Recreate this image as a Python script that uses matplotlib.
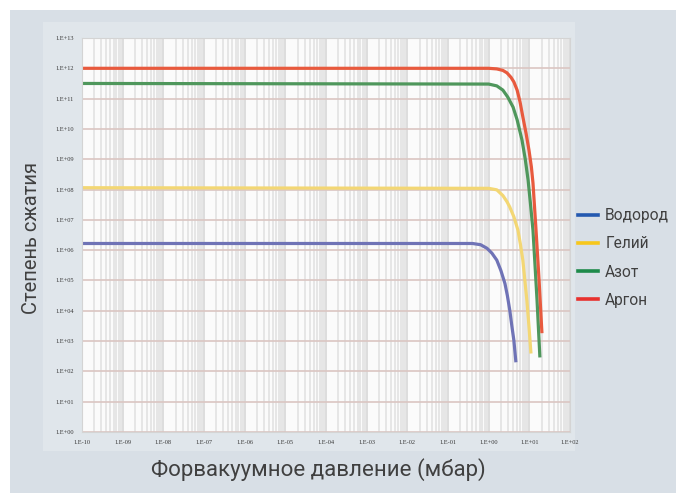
import numpy as np
import matplotlib
matplotlib.use("Agg")
import matplotlib.pyplot as plt
from matplotlib.patches import Rectangle
from matplotlib.lines import Line2D
from matplotlib.ticker import FixedLocator, LogLocator, NullFormatter

plt.rcParams['font.family'] = ['Roboto', 'DejaVu Sans']

# Compression ratio vs. fore-vacuum pressure, stored as log10 values
# (x: pressure in mbar, y: compression ratio)
h2_logp = [-10.0, -0.40, -0.20, -0.04, 0.08, 0.20, 0.30, 0.40, 0.46, 0.52, 0.57, 0.62, 0.67]
h2_logk = [6.22, 6.22, 6.18, 6.06, 5.90, 5.67, 5.33, 4.90, 4.50, 4.01, 3.50, 3.02, 2.30]

he_logp = [-10.0, 0.00, 0.20, 0.35, 0.45, 0.52, 0.62, 0.72, 0.78, 0.84, 0.89, 0.94, 0.99, 1.04]
he_logk = [8.06, 8.04, 7.99, 7.80, 7.60, 7.42, 7.10, 6.66, 6.20, 5.67, 5.00, 4.34, 3.50, 2.59]

n2_logp = [-10.0, 0.00, 0.20, 0.35, 0.47, 0.60, 0.70, 0.82, 0.90, 0.97, 1.03, 1.09, 1.14, 1.19, 1.26]
n2_logk = [11.50, 11.48, 11.42, 11.28, 11.05, 10.72, 10.30, 9.63, 9.00, 8.31, 7.50, 6.65, 5.50, 4.34, 2.46]

ar_logp = [-10.0, 0.00, 0.20, 0.35, 0.45, 0.55, 0.62, 0.70, 0.77, 0.84, 0.92, 0.99, 1.05, 1.09, 1.16, 1.24, 1.31]
ar_logk = [12.00, 12.00, 11.98, 11.93, 11.85, 11.70, 11.55, 11.28, 10.90, 10.40, 9.85, 9.31, 8.75, 8.21, 6.76, 5.00, 3.26]

gases = ["Водород", "Гелий", "Азот", "Аргон"]
curve_colors = ["#6f73b6", "#f3d774", "#4f975c", "#e85a3e"]
legend_colors = ["#2459b0", "#f7c71c", "#1d8a4a", "#e8312e"]

x_exponents = list(range(-10, 3))
y_exponents = list(range(0, 14))
x_ticklabels = [f"1.E{e:+03d}" for e in x_exponents]
y_ticklabels = [f"1.E{e:+03d}" for e in y_exponents]

W, H = 676, 493
fig = plt.figure(figsize=(W / 100, H / 100), dpi=100)
fig.patch.set_facecolor("white")

# grey panel behind everything
fig.add_artist(Rectangle((10 / W, 0), 1 - 10 / W, 1 - 10 / H,
                         transform=fig.transFigure, facecolor="#d8dfe6",
                         edgecolor="none", zorder=-10))
# slightly lighter chart frame
fig.add_artist(Rectangle((43 / W, 1 - 451 / H), (575 - 43) / W, (451 - 22) / H,
                         transform=fig.transFigure, facecolor="#e0e6eb",
                         edgecolor="none", zorder=-9))

ax = fig.add_axes([82 / W, 1 - 432 / H, (570 - 82) / W, (432 - 38) / H])
ax.set_facecolor("#fbfbfb")
ax.set_xscale("log")
ax.set_yscale("log")
ax.set_xlim(10.0 ** x_exponents[0], 10.0 ** x_exponents[-1])
ax.set_ylim(10.0 ** y_exponents[0], 10.0 ** y_exponents[-1])

ax.xaxis.set_major_locator(FixedLocator([10.0 ** e for e in x_exponents]))
ax.yaxis.set_major_locator(FixedLocator([10.0 ** e for e in y_exponents]))
ax.xaxis.set_minor_locator(LogLocator(base=10, subs=np.arange(2, 10), numticks=100))
ax.yaxis.set_minor_locator(FixedLocator([]))
ax.xaxis.set_minor_formatter(NullFormatter())
ax.set_xticklabels(x_ticklabels)
ax.set_yticklabels(y_ticklabels)
ax.tick_params(axis="both", which="both", length=0, labelsize=4.6,
               labelcolor="#3a3a3a", pad=6)
for lbl in ax.get_xticklabels() + ax.get_yticklabels():
    lbl.set_family(["Liberation Serif", "DejaVu Serif"])

ax.grid(True, which="minor", axis="x", color="#e4e4e4", lw=1.3)
ax.grid(True, which="major", axis="x", color="#dadada", lw=1.3)
ax.grid(True, which="major", axis="y", color="#dbc6c2", lw=1.2)
ax.set_axisbelow(True)
for side, sp in ax.spines.items():
    sp.set_color("#d4d4d4")
    sp.set_linewidth(0.8)

series = [(h2_logp, h2_logk), (he_logp, he_logk), (n2_logp, n2_logk), (ar_logp, ar_logk)]
for (lp, lk), col in zip(series, curve_colors):
    ax.plot(10.0 ** np.array(lp), 10.0 ** np.array(lk), color=col, lw=2.3,
            solid_capstyle="butt", solid_joinstyle="round")

# axis titles
fig.text(32 / W, 1 - 238 / H, "Степень сжатия", rotation=90, ha="center",
         va="center", fontsize=14.5, color="#404040")
fig.text(318 / W, 1 - 470 / H, "Форвакуумное давление (мбар)", ha="center",
         va="center", fontsize=16, color="#404040")

handles = [Line2D([0], [0], color=c, lw=2.6) for c in legend_colors]
fig.legend(handles, gases, loc="center left", bbox_to_anchor=(578 / W, 1 - 258 / H),
           frameon=False, fontsize=11.2, handlelength=1.3, handletextpad=0.45,
           labelspacing=0.85, labelcolor="#404040", borderpad=0, borderaxespad=0)

fig.savefig("out.png", dpi=100)
